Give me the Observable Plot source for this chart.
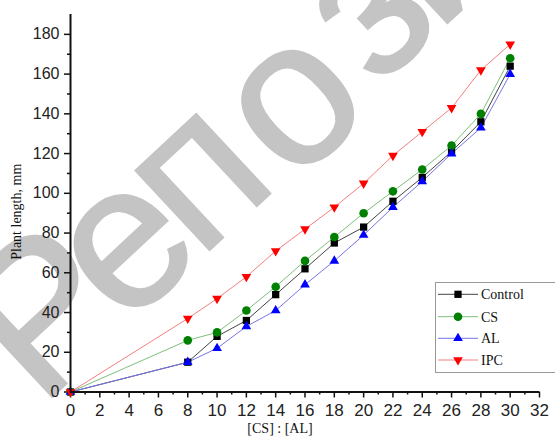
<!DOCTYPE html>
<html><head><meta charset="utf-8">
<script src="https://cdn.jsdelivr.net/npm/d3@7"></script>
<script src="https://cdn.jsdelivr.net/npm/@observablehq/plot@0.6"></script>
<style>
html,body{margin:0;padding:0;background:#fff;}
#wrap{position:relative;width:555px;height:441px;overflow:hidden;background:#fff;}
#wm,#chart,#legend{position:absolute;left:0;top:0;}
</style></head><body>
<div id="wrap"><svg id="wm" width="555" height="441"></svg><div id="chart"></div><svg id="legend" width="555" height="441"></svg></div>
<script>
// ---- data ----
const ratio   = [0, 8, 10, 12, 14, 16, 18, 20, 22, 24, 26, 28, 30];
const control = [0, 15, 28, 36, 49, 62, 75, 83, 96, 108, 121, 136, 164];
const cs      = [0, 26, 30, 41, 53, 66, 78, 90, 101, 112, 124, 140, 168];
const al      = [0, 15, 22, 33, 41, 54, 66, 79, 93, 106, 120, 133, 160];
const ipc     = [0, 37, 47, 58, 71, 82, 93, 105, 119, 131, 143, 162, 175];
const seriesNames = ["Control", "CS", "AL", "IPC"];
const xTicks = d3.range(0, 33, 2);
const yTicks = d3.range(0, 181, 20);
const xLabel = "[CS] : [AL]";
const yLabel = "Plant length, mm";
const watermark = "Репозиторий";

const seriesValues = [control, cs, al, ipc];

// custom triangle symbols (filled)
function tri(up) {
  return {draw(ctx, size) {
    const s = Math.sqrt(size * 4 / Math.sqrt(3));
    const h = s * Math.sqrt(3) / 2;
    const k = up ? -1 : 1;
    ctx.moveTo(0, k * h * 2 / 3);
    ctx.lineTo(s / 2, -k * h / 3);
    ctx.lineTo(-s / 2, -k * h / 3);
    ctx.closePath();
  }};
}
const styles = [
  {line: "#444444", fill: "#000000", symbol: "square", r: 4.1},
  {line: "#7cc07c", fill: "#008000", symbol: "circle", r: 4.3},
  {line: "#7676e6", fill: "#0000ff", symbol: tri(true), r: 3.6},
  {line: "#f28080", fill: "#ff0000", symbol: tri(false), r: 3.6}
];

const tables = seriesNames.map((name, i) => ratio.map((x, j) => ({series: name, x, y: seriesValues[i][j]})));

const lineMarks = tables.map((t, i) => Plot.line(t, {x: "x", y: "y", stroke: styles[i].line, strokeWidth: 1}));
const dotMarks = tables.map((t, i) => Plot.dot(t, {x: "x", y: "y", symbol: styles[i].symbol, fill: styles[i].fill, stroke: "none", r: styles[i].r}));

const chart = Plot.plot({
  width: 555, height: 441,
  marginLeft: 70, marginRight: 16, marginTop: 14, marginBottom: 49.5,
  style: {background: "transparent", fontFamily: "'Liberation Sans', Arial, sans-serif", color: "#222"},
  x: {domain: [0, 32]},
  y: {domain: [0, 190]},
  marks: [
    Plot.axisY({ticks: yTicks, tickSize: 6, tickPadding: 5, fontSize: 16, label: null, strokeWidth: 1.5, stroke: "#111", fill: "#222"}),
    Plot.axisY({ticks: d3.range(10, 190, 20), tickSize: 3, tickFormat: () => "", label: null, strokeWidth: 1.5, stroke: "#111"}),
    Plot.axisX({ticks: xTicks, tickSize: 6, tickPadding: 6, fontSize: 17, label: null, strokeWidth: 1.5, stroke: "#111", fill: "#222"}),
    Plot.axisX({ticks: d3.range(1, 32, 2), tickSize: 3, tickFormat: () => "", label: null, strokeWidth: 1.5, stroke: "#111"}),
    ...lineMarks,
    ...dotMarks,
    Plot.ruleX([0], {y1: 0, y2: 190, stroke: "#111", strokeWidth: 2}),
    Plot.ruleY([0], {x1: 0, x2: 32, stroke: "#111", strokeWidth: 2}),
    Plot.text([yLabel], {frameAnchor: "left", textAnchor: "middle", lineAnchor: "middle", rotate: -90, dx: -54, dy: 8.5, fontSize: 14, fontFamily: "'Liberation Serif', 'Times New Roman', serif", fill: "#111"}),
    Plot.text([xLabel], {frameAnchor: "bottom", textAnchor: "middle", dx: -25, dy: 41, fontSize: 14, fontFamily: "'Liberation Serif', 'Times New Roman', serif", fill: "#111"})
  ]
});
document.getElementById("chart").appendChild(chart);

// watermark
const wm = d3.select("#wm");
wm.append("text").attr("x", 40).attr("y", 408)
  .attr("dx", "0 0 0 20 28").attr("dy", "0 0 0 10 -14")
  .attr("transform", "rotate(-43 40 408)")
  .attr("font-size", 205).attr("letter-spacing", -12)
  .attr("font-family", "'Liberation Sans', Arial, sans-serif")
  .attr("fill", "#c4c4c4").attr("stroke", "#c4c4c4").attr("stroke-width", 2.5)
  .text(watermark);

// legend
const lg = d3.select("#legend");
lg.append("rect").attr("x", 435.5).attr("y", 282.5).attr("width", 140).attr("height", 90)
  .attr("fill", "#fff").attr("stroke", "#999").attr("stroke-width", 1);
const rowY = [294.3, 316.7, 338.3, 360];
const symType = {square: d3.symbolSquare, circle: d3.symbolCircle};
seriesNames.forEach((name, i) => {
  const y = rowY[i], st = styles[i];
  lg.append("line").attr("x1", 438).attr("x2", 478).attr("y1", y).attr("y2", y).attr("stroke", st.line).attr("stroke-width", 1);
  const type = typeof st.symbol === "string" ? symType[st.symbol] : st.symbol;
  lg.append("path").attr("d", d3.symbol(type, Math.PI * st.r * st.r)()).attr("transform", `translate(458,${y})`).attr("fill", st.fill);
  lg.append("text").attr("x", 481).attr("y", y + 5).attr("font-size", 14)
    .attr("font-family", "'Liberation Serif', 'Times New Roman', serif").attr("fill", "#111").text(name);
});
</script>
</body></html>
